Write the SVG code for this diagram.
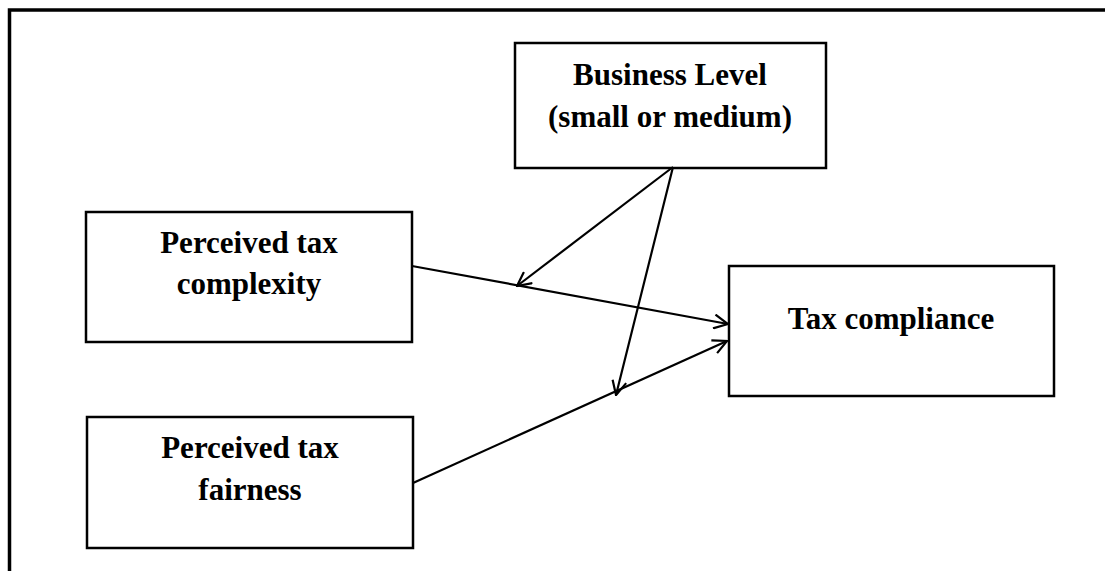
<svg xmlns="http://www.w3.org/2000/svg" width="1105" height="571" viewBox="0 0 1105 571">
<style>
.box{fill:#fff;stroke:#000;stroke-width:2.5}
.lbl{font-family:"Liberation Serif","Times New Roman",serif;font-weight:bold;font-size:31px;fill:#000;text-anchor:middle}
.con{stroke:#000;stroke-width:2.2;fill:none;marker-end:url(#arr)}
.frame{stroke:#000;stroke-width:3.5;fill:none}
</style>
<defs>
<marker id="arr" viewBox="0 0 16 16" refX="15" refY="8" markerWidth="16" markerHeight="16" markerUnits="userSpaceOnUse" orient="auto">
<path d="M1,1 L15,8 L1,15" fill="none" stroke="#000" stroke-width="2.2"/>
</marker>
</defs>
<rect width="1105" height="571" fill="#fff"/>
<path class="frame" d="M9.5,571 V10 H1105"/>
<g id="node-business">
<rect class="box" x="515" y="43" width="311" height="125"/>
<text class="lbl" x="670" y="85">Business Level</text>
<text class="lbl" x="670" y="127">(small or medium)</text>
</g>
<g id="node-complexity">
<rect class="box" x="86" y="212" width="326" height="130"/>
<text class="lbl" x="249" y="253">Perceived tax</text>
<text class="lbl" x="249" y="294">complexity</text>
</g>
<g id="node-fairness">
<rect class="box" x="87" y="417" width="326" height="131"/>
<text class="lbl" x="250" y="458">Perceived tax</text>
<text class="lbl" x="250" y="500">fairness</text>
</g>
<g id="node-compliance">
<rect class="box" x="729" y="266" width="325" height="130"/>
<text class="lbl" x="891" y="329">Tax compliance</text>
</g>
<g id="connectors">
<line class="con" x1="412" y1="266" x2="728" y2="324"/>
<line class="con" x1="413" y1="483" x2="727" y2="341"/>
<line class="con" x1="673" y1="167" x2="517" y2="286"/>
<line class="con" x1="673" y1="167" x2="616" y2="395"/>
</g>
</svg>
